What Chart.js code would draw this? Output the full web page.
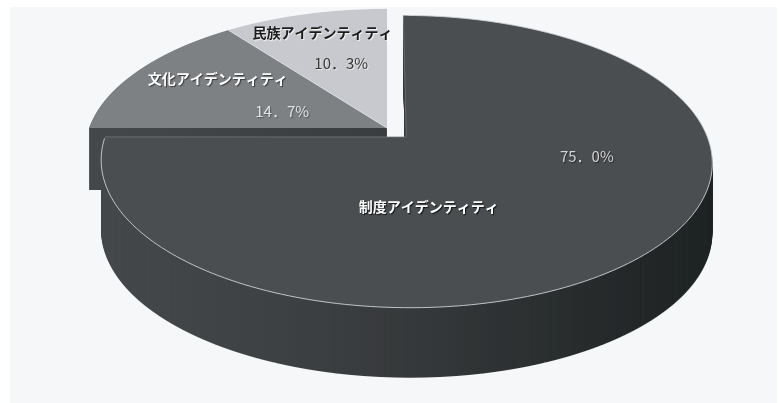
<!DOCTYPE html>
<html>
<head>
<meta charset="utf-8">
<script src="https://cdn.jsdelivr.net/npm/chart.js@4.4.1/dist/chart.umd.min.js"></script>
<style>
html,body{margin:0;padding:0;background:#ffffff;overflow:hidden;}
canvas{display:block;}
</style>
</head>
<body>
<canvas id="c" width="779" height="403"></canvas>
<script>
// ---- data ----
const categories = ['制度アイデンティティ', '文化アイデンティティ', '民族アイデンティティ'];
const shares = [75.0, 14.7, 10.3];
const percentLabels = shares.map(v => v.toFixed(1).replace('.', '．') + '%');

// ---- styles ----
const topColors = ['#4b4e50', '#7e8184', '#c8c9ce'];
const sideStops = [
  [[0, '#45484a'], [0.3, '#3e4143'], [0.5, '#37393b'], [0.72, '#2b2f30'], [0.88, '#232728'], [1, '#1f2323']],
  [[0, '#45484a'], [1, '#3a3d3f']],
  [[0, '#55585b'], [1, '#4a4d50']]
];
const sideDepth = [70, 62, 62];
const explode = [0.09, 0, 0];
const VIEW = { rx: 298, ry: 139, dist: 6, cx: 387, cy: 128 };
const labelPlacement = [
  { name: [0.637, 0.46], pct: [0.381, 0.60] },
  { name: [0.60, 0.71], pct: [0.36, 0.38] },
  { name: [0.526, 0.81], pct: [0.51, 0.534] }
];
const nameColors = ['#ffffff', '#ffffff', '#1c1c1c'];
const nameShadows = ['rgba(0,0,0,0.75)', 'rgba(30,30,30,0.7)', 'rgba(255,255,255,0.85)'];
const pctColors = ['#d2d4d6', '#e2e3e4', '#383838'];
const pctShadows = ['rgba(0,0,0,0.5)', 'rgba(40,40,40,0.5)', 'rgba(255,255,255,0.7)'];

const W = 779, H = 403;
const D = VIEW.dist;

function project(u, v) {
  const s = D / (D - v);
  return { x: VIEW.cx + VIEW.rx * u * s, y: VIEW.cy + VIEW.ry * v * s };
}
function shiftOf(arc, i) {
  const mid = (arc.startAngle + arc.endAngle) / 2;
  return { du: Math.cos(mid) * explode[i], dv: Math.sin(mid) * explode[i] };
}
function pointOf(arc, i, theta, r) {
  const sh = shiftOf(arc, i);
  return project(sh.du + r * Math.cos(theta), sh.dv + r * Math.sin(theta));
}
function arcPoints(arc, i, a0, a1, n) {
  const pts = [];
  for (let k = 0; k <= n; k++) pts.push(pointOf(arc, i, a0 + (a1 - a0) * k / n, 1));
  return pts;
}

// draw one slice (via the library's ArcElement) in perspective, row by row
function drawSliceProjected(ctx, arc, i, color, dpr) {
  const sh = shiftOf(arc, i);
  const pts = arcPoints(arc, i, arc.startAngle, arc.endAngle, 96);
  pts.push(pointOf(arc, i, 0, 0));
  let minY = Infinity, maxY = -Infinity;
  pts.forEach(p => { minY = Math.min(minY, p.y); maxY = Math.max(maxY, p.y); });
  const y0 = Math.floor(minY) - 1, y1 = Math.ceil(maxY) + 1;
  const R = arc.outerRadius, ax = arc.x, ay = arc.y;
  const proxy = Object.create(arc);
  proxy.options = Object.assign({}, arc.options, { backgroundColor: color, borderWidth: 0 });
  for (let y = y0; y < y1; y++) {
    const yc = y + 0.5;
    const t = (yc - VIEW.cy) / VIEW.ry;
    const vt = t * D / (D + t);
    const s0 = D / (D - vt);
    const k0 = D * D / ((D - vt) * (D - vt));
    const a = VIEW.rx * s0 / R, d = VIEW.ry * k0 / R;
    const e = VIEW.cx + VIEW.rx * s0 * sh.du - ax * a;
    const f = yc + VIEW.ry * k0 * (sh.dv - vt) - ay * d;
    ctx.save();
    ctx.setTransform(dpr, 0, 0, dpr, 0, 0);
    ctx.beginPath();
    ctx.rect(0, y, W, 1);
    ctx.clip();
    ctx.setTransform(a * dpr, 0, 0, d * dpr, e * dpr, f * dpr);
    arc.draw.call(proxy, ctx);
    ctx.restore();
  }
  return { minY, maxY };
}

function sliceXRange(arc, i) {
  const pts = arcPoints(arc, i, arc.startAngle, arc.endAngle, 96);
  pts.push(pointOf(arc, i, 0, 0));
  let a = Infinity, b = -Infinity;
  pts.forEach(p => { a = Math.min(a, p.x); b = Math.max(b, p.x); });
  return [a, b];
}

function drawSide(ctx, arc, i, dpr) {
  const off = document.createElement('canvas');
  off.width = W * dpr; off.height = H * dpr;
  const octx = off.getContext('2d');
  drawSliceProjected(octx, arc, i, '#000', dpr);
  octx.setTransform(dpr, 0, 0, dpr, 0, 0);
  octx.globalCompositeOperation = 'source-in';
  const [xa, xb] = sliceXRange(arc, i);
  const g = octx.createLinearGradient(xa, 0, xb, 0);
  sideStops[i].forEach(s => g.addColorStop(s[0], s[1]));
  octx.fillStyle = g;
  octx.fillRect(0, 0, W, H);
  for (let h = sideDepth[i]; h >= 1; h--) ctx.drawImage(off, 0, h, W, H);
}

function strokePts(ctx, pts, color, width) {
  ctx.save();
  ctx.strokeStyle = color;
  ctx.lineWidth = width;
  ctx.beginPath();
  pts.forEach((p, k) => k ? ctx.lineTo(p.x, p.y) : ctx.moveTo(p.x, p.y));
  ctx.stroke();
  ctx.restore();
}

const pie3d = {
  id: 'pie3d',
  beforeDraw(chart) {
    const ctx = chart.ctx;
    ctx.save();
    ctx.fillStyle = '#ffffff';
    ctx.fillRect(0, 0, W, H);
    ctx.fillStyle = '#f5f7f9';
    ctx.fillRect(10, 7, 767, 396);
    ctx.restore();
  },
  beforeDatasetsDraw(chart) {
    const ctx = chart.ctx;
    const dpr = chart.currentDevicePixelRatio || 1;
    const arcs = chart.getDatasetMeta(0).data;
    // back slices
    [2, 1].forEach(i => drawSide(ctx, arcs[i], i, dpr));
    [2, 1].forEach(i => drawSliceProjected(ctx, arcs[i], i, topColors[i], dpr));
    // boundary between the two back slices
    const b = arcs[1].endAngle;
    strokePts(ctx, [pointOf(arcs[1], 1, b, 0), pointOf(arcs[1], 1, b, 1)], 'rgba(235,236,240,0.9)', 1);
    // front (exploded) slice
    drawSide(ctx, arcs[0], 0, dpr);
    drawSliceProjected(ctx, arcs[0], 0, topColors[0], dpr);
    const m = arcs[0];
    strokePts(ctx, arcPoints(m, 0, m.startAngle + 0.02, m.endAngle - 0.01, 200), 'rgba(205,210,215,0.9)', 1);
    strokePts(ctx, [pointOf(m, 0, m.startAngle, 1), pointOf(m, 0, 0, 0), pointOf(m, 0, m.endAngle, 1)], 'rgba(120,125,130,0.7)', 1);
    return false;
  },
  afterDraw(chart) {
    const ctx = chart.ctx;
    const arcs = chart.getDatasetMeta(0).data;
    ctx.save();
    ctx.textAlign = 'center';
    ctx.textBaseline = 'middle';
    arcs.forEach((arc, i) => {
      const lp = labelPlacement[i];
      const span = arc.endAngle - arc.startAngle;
      const pn = pointOf(arc, i, arc.startAngle + span * lp.name[0], lp.name[1]);
      const pp = pointOf(arc, i, arc.startAngle + span * lp.pct[0], lp.pct[1]);
      ctx.font = 'bold 14px "Noto Sans CJK JP", sans-serif';
      ctx.shadowColor = nameShadows[i];
      ctx.shadowOffsetX = 1; ctx.shadowOffsetY = 1; ctx.shadowBlur = 1;
      ctx.fillStyle = nameColors[i];
      ctx.fillText(categories[i], pn.x, pn.y);
      ctx.font = '15px "Noto Sans CJK JP", sans-serif';
      ctx.shadowColor = pctShadows[i];
      ctx.fillStyle = pctColors[i];
      ctx.fillText(percentLabels[i], pp.x, pp.y);
    });
    ctx.restore();
  }
};

new Chart(document.getElementById('c'), {
  type: 'pie',
  data: {
    labels: categories,
    datasets: [{ data: shares, backgroundColor: topColors, borderWidth: 0 }]
  },
  options: {
    responsive: false,
    animation: false,
    events: [],
    layout: { padding: 0 },
    plugins: { legend: { display: false }, tooltip: { enabled: false } }
  },
  plugins: [pie3d]
});
</script>
</body>
</html>
